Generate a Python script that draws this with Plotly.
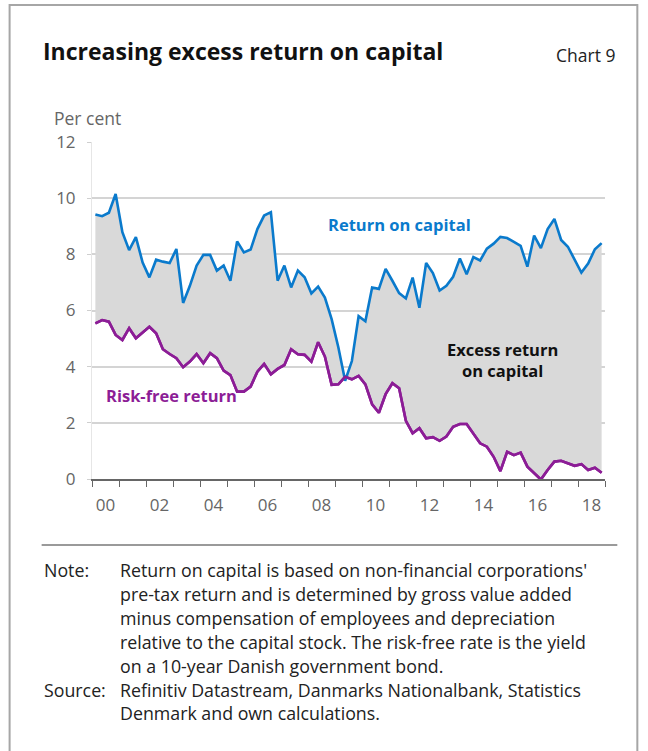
import plotly.graph_objects as go

# ---------------- data (quarterly, 2000Q1 - 2018Q4) ----------------
years = list(range(2000, 2019))
quarters = [1, 2, 3, 4]

return_on_capital = [
    9.42, 9.36, 9.48, 10.15,
    8.79, 8.15, 8.61, 7.71,
    7.18, 7.81, 7.74, 7.69,
    8.19, 6.27, 6.88, 7.60,
    7.98, 7.98, 7.42, 7.60,
    7.06, 8.46, 8.07, 8.17,
    8.90, 9.38, 9.50, 7.06,
    7.60, 6.82, 7.42, 7.18,
    6.61, 6.85, 6.46, 5.69,
    4.68, 3.50, 4.20, 5.80,
    5.62, 6.82, 6.77, 7.48,
    7.06, 6.62, 6.43, 7.17,
    6.10, 7.69, 7.33, 6.71,
    6.88, 7.20, 7.85, 7.29,
    7.90, 7.78, 8.20, 8.38,
    8.62, 8.58, 8.44, 8.30,
    7.56, 8.67, 8.22, 8.90,
    9.26, 8.51, 8.27, 7.82,
    7.35, 7.67, 8.18, 8.40,
]

risk_free_return = [
    5.54, 5.66, 5.60, 5.13,
    4.95, 5.37, 5.01, 5.21,
    5.42, 5.19, 4.62, 4.45,
    4.30, 3.98, 4.18, 4.45,
    4.12, 4.48, 4.30, 3.86,
    3.70, 3.11, 3.11, 3.29,
    3.82, 4.10, 3.73, 3.92,
    4.06, 4.62, 4.44, 4.42,
    4.18, 4.87, 4.36, 3.35,
    3.37, 3.64, 3.55, 3.67,
    3.37, 2.66, 2.36, 3.02,
    3.41, 3.23, 2.07, 1.63,
    1.81, 1.45, 1.49, 1.36,
    1.51, 1.86, 1.96, 1.96,
    1.60, 1.27, 1.15, 0.79,
    0.28, 0.97, 0.85, 0.94,
    0.44, 0.20, -0.02, 0.32,
    0.62, 0.65, 0.56, 0.47,
    0.53, 0.32, 0.40, 0.22,
]

tick_years = [2000, 2002, 2004, 2006, 2008, 2010, 2012, 2014, 2016, 2018]
tick_labels = ["00", "02", "04", "06", "08", "10", "12", "14", "16", "18"]
y_ticks = [0, 2, 4, 6, 8, 10, 12]

# quarter positions: centre of each quarter within the year
x_vals = [y + (q - 0.5) / 4 for y in years for q in quarters]

BLUE = "#0a7acc"
PURPLE = "#8c1d96"
FILL = "#d9d9d9"
FONT = "Open Sans"

# ---------------- layout geometry (pixels) ----------------
W, H = 648, 751
PL, PR = 92.3, 604.7   # plot area left/right
PT, PB = 142, 479      # plot area top/bottom


def px(xp):
    return (xp - PL) / (PR - PL)


def py(yp):
    return (PB - yp) / (PB - PT)


fig = go.Figure()

fig.add_trace(go.Scatter(
    x=x_vals, y=risk_free_return, mode="lines",
    line=dict(color=PURPLE, width=2.6), hoverinfo="skip", showlegend=False,
))
fig.add_trace(go.Scatter(
    x=x_vals, y=return_on_capital, mode="lines",
    line=dict(color=BLUE, width=2.6), fill="tonexty", fillcolor=FILL,
    hoverinfo="skip", showlegend=False,
))
# redraw purple on top of fill
fig.add_trace(go.Scatter(
    x=x_vals, y=risk_free_return, mode="lines",
    line=dict(color=PURPLE, width=2.6), hoverinfo="skip", showlegend=False,
))

fig.update_layout(
    width=W, height=H,
    margin=dict(l=PL, r=W - PR, t=PT, b=H - PB, pad=0),
    paper_bgcolor="white", plot_bgcolor="white",
    font=dict(family=FONT, color="#222"),
    xaxis=dict(
        range=[2000, 2019], showgrid=False, zeroline=False,
        showline=True, linecolor="#666", linewidth=1.5,
        tickmode="array", tickvals=[t + 0.5 for t in tick_years], ticktext=tick_labels,
        ticks="", tickfont=dict(size=17, color="#666", family=FONT),
        ticklabelstandoff=10,
        minor=dict(tickmode="array", tickvals=list(range(2000, 2020)),
                   ticks="outside", ticklen=6, tickwidth=1.3, tickcolor="#666",
                   showgrid=False),
        fixedrange=True,
    ),
    yaxis=dict(
        range=[0, 12], tickmode="array", tickvals=y_ticks,
        showgrid=True, gridcolor="#d4d4d4", gridwidth=1.5,
        zeroline=False, showline=True, linecolor="#e6e6e6", linewidth=1,
        ticks="outside", ticklen=4, tickcolor="#cfcfcf",
        tickfont=dict(size=17, color="#666", family=FONT),
        ticklabelstandoff=8,
        fixedrange=True,
    ),
)

shapes = [
    # outer frame
    dict(type="rect", xref="paper", yref="paper",
         x0=px(10), x1=px(637), y0=py(5), y1=py(770),
         line=dict(color="#a6a6a6", width=2), fillcolor="rgba(0,0,0,0)", layer="below"),
    # separator line
    dict(type="line", xref="paper", yref="paper",
         x0=px(42), x1=px(617), y0=py(545), y1=py(545),
         line=dict(color="#9a9a9a", width=2)),
]
fig.update_layout(shapes=shapes)

ann = []
ann.append(dict(text="<b>Increasing excess return on capital</b>", xref="paper", yref="paper",
                x=px(41), y=py(51), xanchor="left", yanchor="middle", showarrow=False,
                font=dict(size=23, color="#111", family=FONT)))
ann.append(dict(text="Chart 9", xref="paper", yref="paper",
                x=px(617), y=py(55), xanchor="right", yanchor="middle", showarrow=False,
                font=dict(size=17.5, color="#222", family=FONT)))
ann.append(dict(text="Per cent", xref="paper", yref="paper",
                x=px(52), y=py(118), xanchor="left", yanchor="middle", showarrow=False,
                font=dict(size=17.5, color="#666", family=FONT)))
ann.append(dict(text="<b>Return on capital</b>", xref="x", yref="y",
                x=2011.4, y=9.05, xanchor="center", yanchor="middle", showarrow=False,
                font=dict(size=16.5, color=BLUE, family=FONT)))
ann.append(dict(text="<b>Risk-free return</b>", xref="x", yref="y",
                x=2002.95, y=2.96, xanchor="center", yanchor="middle", showarrow=False,
                font=dict(size=16.5, color=PURPLE, family=FONT)))
ann.append(dict(text="<b>Excess return<br>on capital</b>", xref="x", yref="y",
                x=2015.19, y=4.24, xanchor="center", yanchor="middle", showarrow=False,
                font=dict(size=16.5, color="#111", family=FONT)))

note_lines = [
    "Return on capital is based on non-financial corporations'",
    "pre-tax return and is determined by gross value added",
    "minus compensation of employees and depreciation",
    "relative to the capital stock. The risk-free rate is the yield",
    "on a 10-year Danish government bond.",
]
source_lines = [
    "Refinitiv Datastream, Danmarks Nationalbank, Statistics",
    "Denmark and own calculations.",
]
LH = 23.9
y0 = 570
NOTE_FS = 17.8
ann.append(dict(text="Note:", xref="paper", yref="paper", x=px(42), y=py(y0),
                xanchor="left", yanchor="middle", showarrow=False,
                font=dict(size=NOTE_FS, color="#222", family=FONT)))
for i, line in enumerate(note_lines):
    ann.append(dict(text=line, xref="paper", yref="paper", x=px(118), y=py(y0 + i * LH),
                    xanchor="left", yanchor="middle", showarrow=False,
                    font=dict(size=NOTE_FS, color="#222", family=FONT)))
ys = y0 + len(note_lines) * LH
ann.append(dict(text="Source:", xref="paper", yref="paper", x=px(42), y=py(ys),
                xanchor="left", yanchor="middle", showarrow=False,
                font=dict(size=NOTE_FS, color="#222", family=FONT)))
for i, line in enumerate(source_lines):
    ann.append(dict(text=line, xref="paper", yref="paper", x=px(118), y=py(ys + i * LH),
                    xanchor="left", yanchor="middle", showarrow=False,
                    font=dict(size=NOTE_FS, color="#222", family=FONT)))

fig.update_layout(annotations=ann)

fig.write_html("out.html", config={"displayModeBar": False},
               post_script="document.body.style.margin='0';document.body.style.overflow='hidden';")
